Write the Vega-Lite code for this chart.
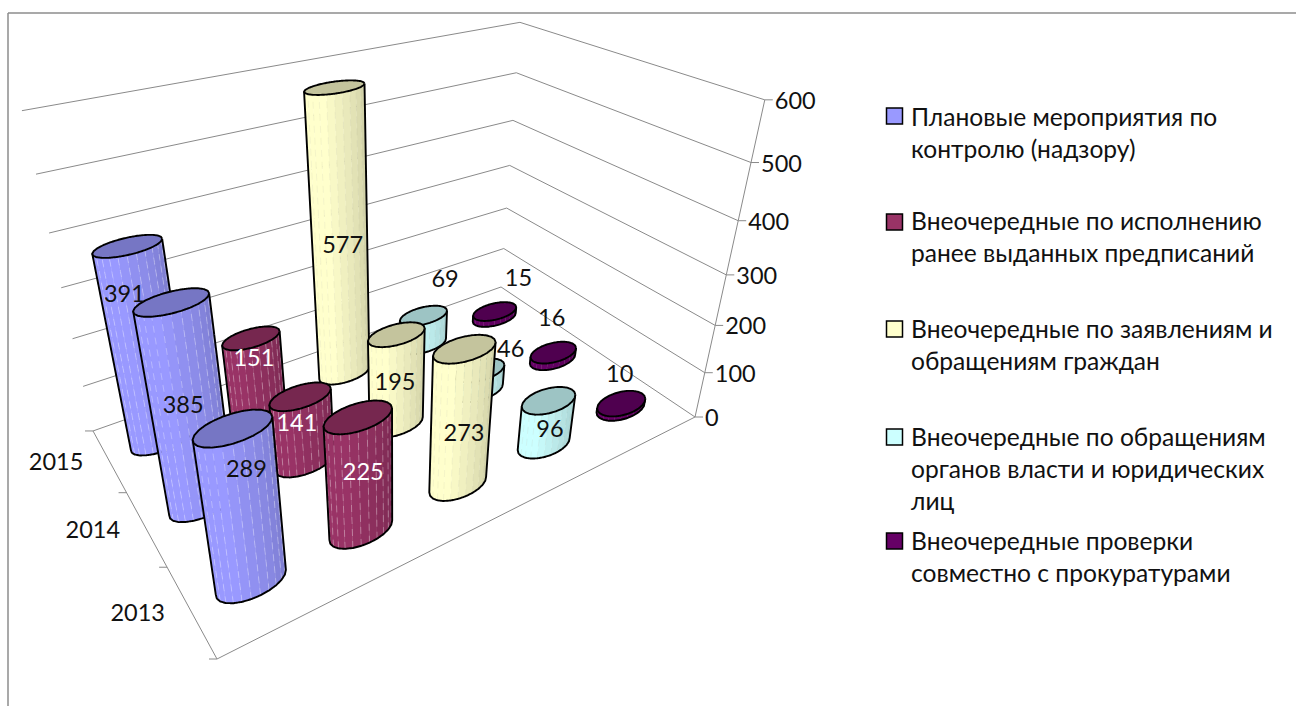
{"$schema":"https://vega.github.io/schema/vega-lite/v6.json","width":1288,"height":693,"padding":{"left":8,"top":13,"right":0,"bottom":0},"autosize":"none","background":"white","view":{"stroke":null,"fill":null},
"config":{"text":{"font":"Lato","fontSize":23.5}},
"datasets":{
"rows":[
{"year":2015,"series":"Внеочередные проверки совместно с прокуратурами","value":15},
{"year":2015,"series":"Внеочередные по обращениям органов власти и юридических лиц","value":69},
{"year":2015,"series":"Внеочередные по заявлениям и обращениям граждан","value":577},
{"year":2015,"series":"Внеочередные по исполнению ранее выданных предписаний","value":151},
{"year":2015,"series":"Плановые мероприятия по контролю (надзору)","value":391},
{"year":2014,"series":"Внеочередные проверки совместно с прокуратурами","value":16},
{"year":2014,"series":"Внеочередные по обращениям органов власти и юридических лиц","value":46},
{"year":2014,"series":"Внеочередные по заявлениям и обращениям граждан","value":195},
{"year":2014,"series":"Внеочередные по исполнению ранее выданных предписаний","value":141},
{"year":2014,"series":"Плановые мероприятия по контролю (надзору)","value":385},
{"year":2013,"series":"Внеочередные проверки совместно с прокуратурами","value":10},
{"year":2013,"series":"Внеочередные по обращениям органов власти и юридических лиц","value":96},
{"year":2013,"series":"Внеочередные по заявлениям и обращениям граждан","value":273},
{"year":2013,"series":"Внеочередные по исполнению ранее выданных предписаний","value":225},
{"year":2013,"series":"Плановые мероприятия по контролю (надзору)","value":289}],
"levels":[{"level":0},{"level":100},{"level":200},{"level":300},{"level":400},{"level":500},{"level":600}],
"legend":[
{"rank":0,"series":"Плановые мероприятия по контролю (надзору)","label":"Плановые мероприятия по\nконтролю (надзору)"},
{"rank":1,"series":"Внеочередные по исполнению ранее выданных предписаний","label":"Внеочередные по исполнению\nранее выданных предписаний"},
{"rank":2,"series":"Внеочередные по заявлениям и обращениям граждан","label":"Внеочередные по заявлениям и\nобращениям граждан"},
{"rank":3,"series":"Внеочередные по обращениям органов власти и юридических лиц","label":"Внеочередные по обращениям\nорганов власти и юридических\nлиц"},
{"rank":4,"series":"Внеочередные проверки совместно с прокуратурами","label":"Внеочередные проверки\nсовместно с прокуратурами"}]
},
"resolve":{"scale":{"x":"independent","y":"independent"}},
"layer":[
{"data":{"values":[{"side":"top"}]},"mark":{"type":"rule","stroke":"#8c8c8c","strokeWidth":1.5},"encoding":{"x":{"datum":8,"type":"quantitative","axis":null,"scale":{"domain":[8,1296],"range":[0,1288]}},"x2":{"datum":1296},"y":{"datum":13,"type":"quantitative","axis":null,"scale":{"domain":[13,706],"range":[0,693]}}}},
{"data":{"values":[{"side":"left"}]},"mark":{"type":"rule","stroke":"#8c8c8c","strokeWidth":1.5},"encoding":{"x":{"datum":8,"type":"quantitative","axis":null,"scale":{"domain":[8,1296],"range":[0,1288]}},"y":{"datum":13,"type":"quantitative","axis":null,"scale":{"domain":[13,706],"range":[0,693]}},"y2":{"datum":706}}},
{"data":{"name":"levels"},"mark":{"type":"line","stroke":"#8a8a8a","strokeWidth":1,"strokeJoin":"miter"},
"transform":[{"calculate":"[[0,1,0],[1,1,1],[1,0,2]]","as":"c"},{"flatten":["c"]},{"calculate":"datum.c[0]","as":"U"},{"calculate":"datum.c[1]","as":"W"},{"calculate":"datum.c[2]","as":"o"},{"calculate":"datum.level/600","as":"V"},{"calculate":"1+0.3693*datum.U+0.3472*datum.W-0.2575*datum.V","as":"Dn"},{"calculate":"(734.7*datum.U-91.7*datum.W-101.4*datum.V+217)/datum.Dn","as":"X"},{"calculate":"(-88*datum.U-78.4*datum.W-460*datum.V+659)/datum.Dn","as":"Y"}],
"encoding":{"x":{"field":"X","type":"quantitative","axis":null,"scale":{"domain":[8,1296],"range":[0,1288]}},"y":{"field":"Y","type":"quantitative","axis":null,"scale":{"domain":[13,706],"range":[0,693]}},"detail":{"field":"level"},"order":{"field":"o"}}},
{"data":{"values":[{"edge":"floor"}]},"mark":{"type":"line","stroke":"#8a8a8a","strokeWidth":1,"strokeJoin":"miter"},
"transform":[{"calculate":"[[0,1,0],[0,0,1],[1,0,2]]","as":"c"},{"flatten":["c"]},{"calculate":"datum.c[0]","as":"U"},{"calculate":"datum.c[1]","as":"W"},{"calculate":"datum.c[2]","as":"o"},{"calculate":"1+0.3693*datum.U+0.3472*datum.W","as":"Dn"},{"calculate":"(734.7*datum.U-91.7*datum.W+217)/datum.Dn","as":"X"},{"calculate":"(-88*datum.U-78.4*datum.W+659)/datum.Dn","as":"Y"}],
"encoding":{"x":{"field":"X","type":"quantitative","axis":null,"scale":{"domain":[8,1296],"range":[0,1288]}},"y":{"field":"Y","type":"quantitative","axis":null,"scale":{"domain":[13,706],"range":[0,693]}},"order":{"field":"o"}}},
{"data":{"name":"levels"},"mark":{"type":"line","stroke":"#8a8a8a","strokeWidth":1},
"transform":[{"calculate":"datum.level/600","as":"V"},{"calculate":"1.3693-0.2575*datum.V","as":"Dn"},{"calculate":"(951.7-101.4*datum.V)/datum.Dn","as":"X"},{"calculate":"(571-460*datum.V)/datum.Dn","as":"Y"}],
"encoding":{"x":{"field":"X","type":"quantitative","axis":null,"scale":{"domain":[8,1296],"range":[0,1288]}},"y":{"field":"Y","type":"quantitative","axis":null,"scale":{"domain":[13,706],"range":[0,693]}},"order":{"field":"level"}}},
{"data":{"name":"levels"},"mark":{"type":"rule","stroke":"#8a8a8a","strokeWidth":1},
"transform":[{"calculate":"datum.level/600","as":"V"},{"calculate":"1.3693-0.2575*datum.V","as":"Dn"},{"calculate":"(951.7-101.4*datum.V)/datum.Dn","as":"X"},{"calculate":"datum.X+8","as":"X2"},{"calculate":"(571-460*datum.V)/datum.Dn","as":"Y"}],
"encoding":{"x":{"field":"X","type":"quantitative","axis":null,"scale":{"domain":[8,1296],"range":[0,1288]}},"x2":{"field":"X2"},"y":{"field":"Y","type":"quantitative","axis":null,"scale":{"domain":[13,706],"range":[0,693]}}}},
{"data":{"values":[{"edge":0},{"edge":1},{"edge":2},{"edge":3}]},"mark":{"type":"rule","stroke":"#8a8a8a","strokeWidth":1},
"transform":[{"calculate":"datum.edge/3","as":"W"},{"calculate":"1+0.3472*datum.W","as":"Dn"},{"calculate":"(217-91.7*datum.W)/datum.Dn","as":"X"},{"calculate":"datum.X-8","as":"X2"},{"calculate":"(659-78.4*datum.W)/datum.Dn","as":"Y"}],
"encoding":{"x":{"field":"X","type":"quantitative","axis":null,"scale":{"domain":[8,1296],"range":[0,1288]}},"x2":{"field":"X2"},"y":{"field":"Y","type":"quantitative","axis":null,"scale":{"domain":[13,706],"range":[0,693]}}}},
{"data":{"name":"rows"},"mark":{"type":"line","strokeJoin":"round","interpolate":"linear"},
"transform":[
{"calculate":"indexof(['Плановые мероприятия по контролю (надзору)','Внеочередные по исполнению ранее выданных предписаний','Внеочередные по заявлениям и обращениям граждан','Внеочередные по обращениям органов власти и юридических лиц','Внеочередные проверки совместно с прокуратурами'],datum.series)","as":"s"},
{"calculate":"datum.year-2013","as":"j"},{"calculate":"(datum.s+0.5)/5","as":"u"},{"calculate":"(datum.j+0.5)/3","as":"w"},{"calculate":"datum.value/600","as":"v"},
{"calculate":"1+0.3693*datum.u+0.3472*datum.w","as":"D0"},{"calculate":"(734.7*datum.u-91.7*datum.w+217)/datum.D0","as":"bx"},
{"calculate":"atan2((-91.7-0.3472*datum.bx)*0.052,(734.7-0.3693*datum.bx)*0.058)","as":"th0"},
{"calculate":"[[1,0,0,0],[1,1,0,1],[1,1,1,2],[1,0,1,3],[2,1,0,0],[2,2,0,1],[2,2,1,2],[2,1,1,3],[3,2,0,0],[3,3,0,1],[3,3,1,2],[3,2,1,3],[4,3,0,0],[4,4,0,1],[4,4,1,2],[4,3,1,3],[5,4,0,0],[5,5,0,1],[5,5,1,2],[5,4,1,3],[6,5,0,0],[6,6,0,1],[6,6,1,2],[6,5,1,3],[7,6,0,0],[7,7,0,1],[7,7,1,2],[7,6,1,3],[8,7,0,0],[8,8,0,1],[8,8,1,2],[8,7,1,3],[9,8,0,0],[9,9,0,1],[9,9,1,2],[9,8,1,3],[10,9,0,0],[10,10,0,1],[10,10,1,2],[10,9,1,3],[11,10,0,0],[11,11,0,1],[11,11,1,2],[11,10,1,3],[12,11,0,0],[12,12,0,1],[12,12,1,2],[12,11,1,3],[14,1,0,0],[14,1,1,1],[15,2,0,0],[15,2,1,1],[16,3,0,0],[16,3,1,1],[17,4,0,0],[17,4,1,1],[18,5,0,0],[18,5,1,1],[19,6,0,0],[19,6,1,1],[20,7,0,0],[20,7,1,1],[21,8,0,0],[21,8,1,1],[22,9,0,0],[22,9,1,1],[23,10,0,0],[23,10,1,1],[24,11,0,0],[24,11,1,1],[13,0,1,0],[13,0,0,1],[13,1,0,2],[13,2,0,3],[13,3,0,4],[13,4,0,5],[13,5,0,6],[13,6,0,7],[13,7,0,8],[13,8,0,9],[13,9,0,10],[13,10,0,11],[13,11,0,12],[13,12,0,13],[13,12,1,14],[30,0,1,0],[30,1,1,1],[30,2,1,2],[30,3,1,3],[30,4,1,4],[30,5,1,5],[30,6,1,6],[30,7,1,7],[30,8,1,8],[30,9,1,9],[30,10,1,10],[30,11,1,11],[30,12,1,12],[30,13,1,13],[30,14,1,14],[30,15,1,15],[30,16,1,16],[30,17,1,17],[30,18,1,18],[30,19,1,19],[30,20,1,20],[30,21,1,21],[30,22,1,22],[30,23,1,23],[30,24,1,24]]","as":"pt"},
{"flatten":["pt"]},
{"calculate":"datum.pt[0]","as":"part"},{"calculate":"datum.pt[3]","as":"o"},
{"calculate":"datum.th0-datum.pt[1]*PI/12","as":"theta"},
{"calculate":"datum.u+0.058*cos(datum.theta)","as":"U"},{"calculate":"datum.w+0.052*sin(datum.theta)","as":"W"},{"calculate":"datum.v*datum.pt[2]","as":"V"},
{"calculate":"1+0.3693*datum.U+0.3472*datum.W-0.2575*datum.V","as":"Dn"},
{"calculate":"(734.7*datum.U-91.7*datum.W-101.4*datum.V+217)/datum.Dn","as":"X"},
{"calculate":"(-88*datum.U-78.4*datum.W-460*datum.V+659)/datum.Dn","as":"Y"},
{"calculate":"datum.year+'-'+datum.s+'-'+datum.part","as":"id"},
{"calculate":"datum.part==30?0.77:min(1,0.8+0.2*(datum.part-1)/7)","as":"f"},
{"calculate":"[[153,153,255],[153,51,102],[255,255,204],[204,255,255],[102,0,102]][datum.s]","as":"rgb"},
{"calculate":"'rgb('+round(datum.rgb[0]*datum.f)+','+round(datum.rgb[1]*datum.f)+','+round(datum.rgb[2]*datum.f)+')'","as":"shade"},
{"calculate":"(datum.part<=12||datum.part==30)?datum.shade:'transparent'","as":"fc"},
{"calculate":"(datum.part==13||datum.part==30)?'#000000':datum.part<=12?datum.shade:(datum.s<2?'rgba(255,255,255,0.3)':'rgba(120,120,90,0.08)')","as":"sc"},
{"calculate":"datum.part==13||datum.part==30?1.9:datum.part<=12?0.7:1","as":"sw"},
{"calculate":"datum.part>=14&&datum.part<=24?'d':'n'","as":"dk"}
],
"encoding":{"x":{"field":"X","type":"quantitative","axis":null,"scale":{"domain":[8,1296],"range":[0,1288]}},"y":{"field":"Y","type":"quantitative","axis":null,"scale":{"domain":[13,706],"range":[0,693]}},"detail":{"field":"id"},"order":{"field":"o"},"fill":{"field":"fc","type":"nominal","scale":null,"legend":null},"stroke":{"field":"sc","type":"nominal","scale":null,"legend":null},"strokeWidth":{"field":"sw","type":"quantitative","scale":null,"legend":null},"strokeDash":{"field":"dk","type":"nominal","legend":null,"scale":{"domain":["n","d"],"range":[[1,0],[7,5]]}}}},
{"data":{"name":"rows"},"mark":{"type":"text","align":"center","baseline":"middle","dy":1},
"transform":[
{"calculate":"indexof(['Плановые мероприятия по контролю (надзору)','Внеочередные по исполнению ранее выданных предписаний','Внеочередные по заявлениям и обращениям граждан','Внеочередные по обращениям органов власти и юридических лиц','Внеочередные проверки совместно с прокуратурами'],datum.series)","as":"s"},
{"calculate":"datum.year-2013","as":"j"},{"calculate":"(datum.s+0.5)/5","as":"u"},{"calculate":"(datum.j+0.5)/3","as":"w"},
{"calculate":"1+0.3693*datum.u+0.3472*datum.w","as":"D0"},
{"calculate":"(734.7*datum.u-91.7*datum.w+217)/datum.D0+[[-5,2,6,6,-1],[-19,-8,-1.5,32,-1],[-37,-4,-2,22,24]][datum.j][datum.s]","as":"X"},
{"calculate":"(-88*datum.u-78.4*datum.w+659)/datum.D0+[[-113,-58,-51,-15,-34],[-100,-39,-42,-41,-41],[-147,-47,-128,-65,-39]][datum.j][datum.s]","as":"Y"},
{"calculate":"datum.s==1?'#ffffff':'#111111'","as":"tc"}],
"encoding":{"x":{"field":"X","type":"quantitative","axis":null,"scale":{"domain":[8,1296],"range":[0,1288]}},"y":{"field":"Y","type":"quantitative","axis":null,"scale":{"domain":[13,706],"range":[0,693]}},"text":{"field":"value","type":"quantitative"},"color":{"field":"tc","type":"nominal","scale":null,"legend":null}}},
{"data":{"values":[{"year":"2013"},{"year":"2014"},{"year":"2015"}]},"mark":{"type":"text","align":"center","baseline":"middle","dx":-53,"dy":3,"color":"#111111"},
"transform":[{"calculate":"(toNumber(datum.year)-2013+0.5)/3","as":"W"},{"calculate":"1+0.3472*datum.W","as":"Dn"},{"calculate":"(217-91.7*datum.W)/datum.Dn","as":"X"},{"calculate":"(659-78.4*datum.W)/datum.Dn","as":"Y"}],
"encoding":{"x":{"field":"X","type":"quantitative","axis":null,"scale":{"domain":[8,1296],"range":[0,1288]}},"y":{"field":"Y","type":"quantitative","axis":null,"scale":{"domain":[13,706],"range":[0,693]}},"text":{"field":"year"}}},
{"data":{"name":"levels"},"mark":{"type":"text","align":"left","baseline":"middle","dx":10,"dy":2,"color":"#111111"},
"transform":[{"calculate":"datum.level/600","as":"V"},{"calculate":"1.3693-0.2575*datum.V","as":"Dn"},{"calculate":"(951.7-101.4*datum.V)/datum.Dn","as":"X"},{"calculate":"(571-460*datum.V)/datum.Dn","as":"Y"}],
"encoding":{"x":{"field":"X","type":"quantitative","axis":null,"scale":{"domain":[8,1296],"range":[0,1288]}},"y":{"field":"Y","type":"quantitative","axis":null,"scale":{"domain":[13,706],"range":[0,693]}},"text":{"field":"level","type":"quantitative"}}},
{"data":{"name":"legend"},"mark":{"type":"point","shape":"square","filled":true,"size":256,"stroke":"#000000","strokeWidth":1.5,"opacity":1},
"encoding":{"x":{"field":"rank","type":"quantitative","axis":null,"scale":{"domain":[0,4],"range":[886.5,886.5]}},"y":{"field":"rank","type":"quantitative","axis":null,"scale":{"domain":[0,1,2,3,4],"range":[103,209,316,424,528]}},"fill":{"field":"series","type":"nominal","legend":null,"scale":{"domain":["Плановые мероприятия по контролю (надзору)","Внеочередные по исполнению ранее выданных предписаний","Внеочередные по заявлениям и обращениям граждан","Внеочередные по обращениям органов власти и юридических лиц","Внеочередные проверки совместно с прокуратурами"],"range":["#9999ff","#993366","#ffffcc","#ccffff","#660066"]}}}},
{"data":{"name":"legend"},"mark":{"type":"text","align":"left","baseline":"top","lineBreak":"\n","lineHeight":32,"color":"#111111","fontSize":24.6},
"encoding":{"x":{"field":"rank","type":"quantitative","axis":null,"scale":{"domain":[0,4],"range":[903,903]}},"y":{"field":"rank","type":"quantitative","axis":null,"scale":{"domain":[0,1,2,3,4],"range":[94,198,306,414,518]}},"text":{"field":"label"}}}
]}
